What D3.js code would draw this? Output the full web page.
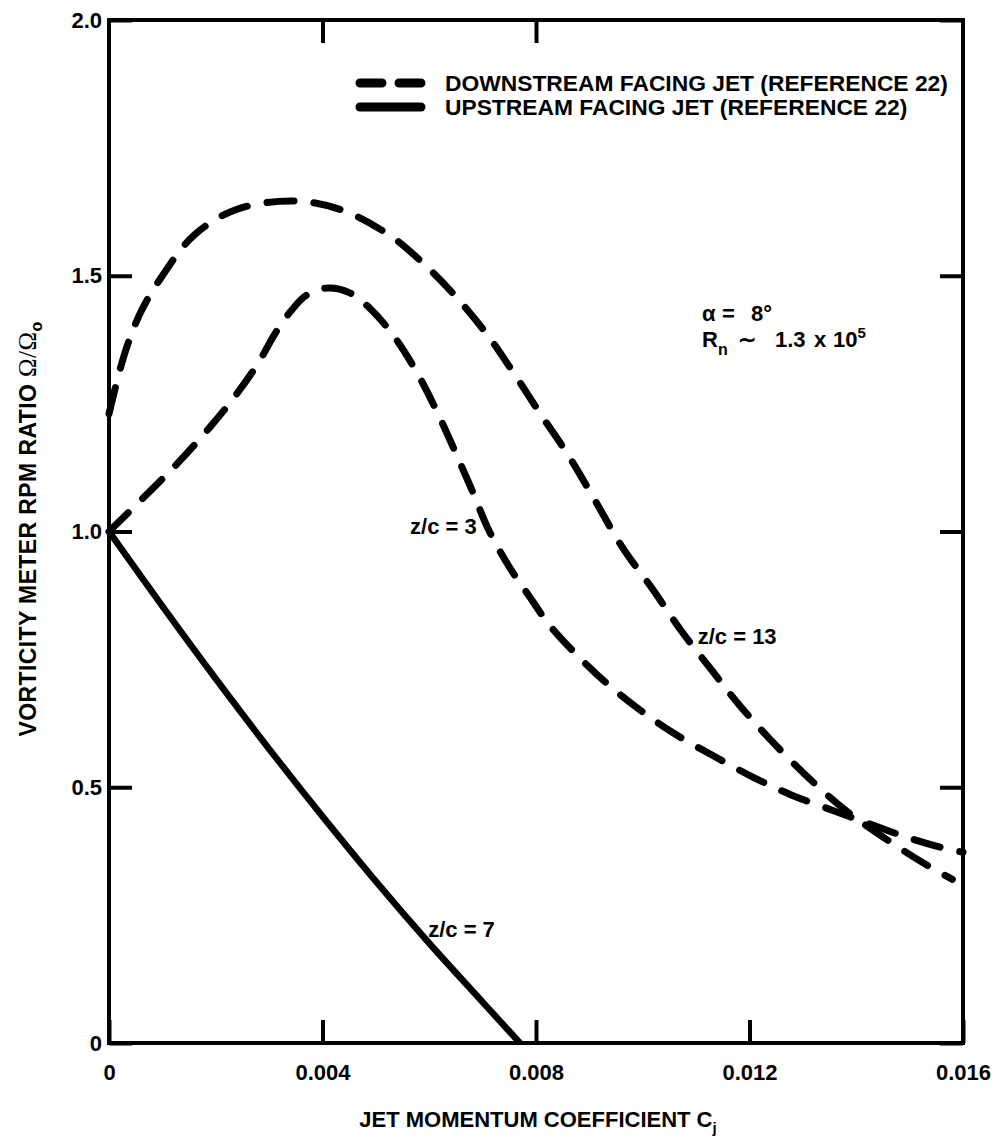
<!DOCTYPE html>
<html><head><meta charset="utf-8">
<script src="https://cdn.jsdelivr.net/npm/d3@7"></script>
<style>
body{margin:0;background:#fff}
text{font-family:"Liberation Sans",Arial,Helvetica,sans-serif;font-weight:bold;fill:#000}
</style>
</head><body>
<svg id="chart" width="998" height="1136"></svg>
<script>
// ---- data ----
const xTicks = [0, 0.004, 0.008, 0.012, 0.016];
const yTicks = [0, 0.5, 1.0, 1.5, 2.0];
const topTicks = [0.004, 0.008];
const legendLabels = ["DOWNSTREAM FACING JET (REFERENCE 22)", "UPSTREAM FACING JET (REFERENCE 22)"];

// downstream facing jet, z/c = 13
const down13X = [0, 0.0003, 0.0006, 0.001, 0.0016, 0.0024, 0.0035, 0.0044, 0.0053, 0.0059, 0.0065, 0.0071, 0.0076, 0.0081, 0.0086, 0.0091, 0.0096, 0.0102, 0.0107, 0.0113, 0.0118, 0.0124, 0.0131, 0.0138, 0.0148, 0.0155, 0.0158];
const down13Y = [1.23, 1.35, 1.43, 1.50, 1.58, 1.63, 1.646, 1.627, 1.576, 1.523, 1.459, 1.383, 1.307, 1.227, 1.15, 1.062, 0.972, 0.885, 0.809, 0.728, 0.662, 0.592, 0.519, 0.455, 0.382, 0.337, 0.32];

// downstream facing jet, z/c = 3
const down3X = [0, 0.0007, 0.0013, 0.0019, 0.0024, 0.0028, 0.0031, 0.0034, 0.0037, 0.0041, 0.0045, 0.0049, 0.00535, 0.0058, 0.0062, 0.00654, 0.00682, 0.0071, 0.00748, 0.00789, 0.00826, 0.00879, 0.00935, 0.00995, 0.01059, 0.01133, 0.01208, 0.01276, 0.01355, 0.01426, 0.01507, 0.01568, 0.016];
const down3Y = [1.0, 1.072, 1.135, 1.205, 1.27, 1.33, 1.385, 1.43, 1.462, 1.476, 1.467, 1.435, 1.38, 1.305, 1.222, 1.143, 1.076, 1.006, 0.934, 0.871, 0.816, 0.756, 0.701, 0.651, 0.605, 0.561, 0.519, 0.486, 0.455, 0.428, 0.398, 0.38, 0.373];

// upstream facing jet, z/c = 7
const up7X = [0, 0.001, 0.002, 0.003, 0.004, 0.005, 0.006, 0.007, 0.0077];
const up7Y = [1.0, 0.854, 0.712, 0.575, 0.443, 0.316, 0.195, 0.08, 0];

// ---- chart ----
const svg = d3.select("#chart");
const L = 109, R = 963, T = 20, B = 1043;
const x = d3.scaleLinear().domain([0, 0.016]).range([L, R]);
const y = d3.scaleLinear().domain([0, 2.0]).range([B, T]);

const fx = d => d === 0 ? "0" : d3.format(".3f")(d);
const fy = d => d === 0 ? "0" : d3.format(".1f")(d);

function styleAxis(g, size) {
  g.select(".domain").remove();
  g.selectAll(".tick line").attr("stroke", "#000").attr("stroke-width", 4);
  g.selectAll(".tick text").attr("font-size", size).attr("font-family", null).attr("fill", "#000");
}

svg.append("g").attr("transform", `translate(0,${B})`)
  .call(d3.axisBottom(x).tickValues(xTicks).tickFormat(fx).tickSize(-23).tickPadding(21))
  .call(g => styleAxis(g, 22));
svg.append("g").attr("transform", `translate(${L},0)`)
  .call(d3.axisLeft(y).tickValues(yTicks).tickFormat(fy).tickSize(-23).tickPadding(7))
  .call(g => styleAxis(g, 22));
svg.append("g").attr("transform", `translate(${R},0)`)
  .call(d3.axisRight(y).tickValues(yTicks).tickFormat("").tickSize(-23))
  .call(g => styleAxis(g, 22));
svg.append("g").attr("transform", `translate(0,${T})`)
  .call(d3.axisTop(x).tickValues(topTicks).tickFormat("").tickSize(-23))
  .call(g => styleAxis(g, 22));

svg.append("rect").attr("x", L).attr("y", T).attr("width", R - L).attr("height", B - T)
  .attr("fill", "none").attr("stroke", "#000").attr("stroke-width", 4);

const line = d3.line().x(d => x(d[0])).y(d => y(d[1])).curve(d3.curveCatmullRom.alpha(0.5));
const zip = (a, b) => a.map((v, i) => [v, b[i]]);

svg.append("path").datum(zip(down13X, down13Y)).attr("d", line)
  .attr("fill", "none").attr("stroke", "#000").attr("stroke-width", 7)
  .attr("stroke-linecap", "round").attr("stroke-dasharray", "27,20");
svg.append("path").datum(zip(down3X, down3Y)).attr("d", line)
  .attr("fill", "none").attr("stroke", "#000").attr("stroke-width", 7)
  .attr("stroke-linecap", "round").attr("stroke-dasharray", "27,20");
svg.append("path").datum(zip(up7X, up7Y)).attr("d", line)
  .attr("fill", "none").attr("stroke", "#000").attr("stroke-width", 6.5);

// legend
const lg = svg.append("g");
lg.append("line").attr("x1", 360).attr("x2", 421).attr("y1", 83).attr("y2", 83)
  .attr("stroke", "#000").attr("stroke-width", 9).attr("stroke-linecap", "round").attr("stroke-dasharray", "22,17");
lg.append("line").attr("x1", 360).attr("x2", 421).attr("y1", 107).attr("y2", 107)
  .attr("stroke", "#000").attr("stroke-width", 9).attr("stroke-linecap", "round");
lg.selectAll("text.lab").data(legendLabels).join("text").attr("class", "lab")
  .attr("x", 445).attr("y", (d, i) => 91 + i * 24).attr("font-size", 22.8).text(d => d);

// annotations
const al = svg.append("text").attr("x", 702).attr("y", 321).attr("font-size", 22);
al.append("tspan").text("α");
al.append("tspan").attr("x", 722).text("=");
al.append("tspan").attr("x", 751).text("8°");
const rn = svg.append("text").attr("x", 702).attr("y", 347).attr("font-size", 22);
rn.append("tspan").text("R");
rn.append("tspan").attr("font-size", 16).attr("dy", 8).text("n");
rn.append("tspan").attr("x", 738).attr("dy", -8).text("∼");
rn.append("tspan").attr("x", 775).text("1.3");
rn.append("tspan").attr("x", 814).text("x");
rn.append("tspan").attr("x", 833).text("10");
rn.append("tspan").attr("font-size", 15).attr("dy", -9).text("5");

svg.append("text").attr("x", x(0.00564)).attr("y", y(0.996)).attr("font-size", 22).text("z/c = 3");
svg.append("text").attr("x", x(0.01103)).attr("y", y(0.781)).attr("font-size", 22).text("z/c = 13");
svg.append("text").attr("x", x(0.00598)).attr("y", y(0.207)).attr("font-size", 22).text("z/c = 7");

// axis titles
const xt = svg.append("text").attr("x", 538).attr("y", 1127).attr("text-anchor", "middle").attr("font-size", 22);
xt.append("tspan").text("JET MOMENTUM COEFFICIENT C");
xt.append("tspan").attr("font-size", 15).attr("dy", 6).text("j");

const yt = svg.append("text").attr("transform", "translate(36,529) rotate(-90)")
  .attr("text-anchor", "middle").attr("font-size", 23).attr("letter-spacing", 0.4);
yt.append("tspan").text("VORTICITY METER RPM RATIO ");
yt.append("tspan").attr("font-family", "'Liberation Serif','DejaVu Serif',serif").attr("font-weight", "normal").attr("font-size", 25).text("Ω/Ω");
yt.append("tspan").attr("font-size", 16).attr("dy", 6).text("o");
</script>
</body></html>
